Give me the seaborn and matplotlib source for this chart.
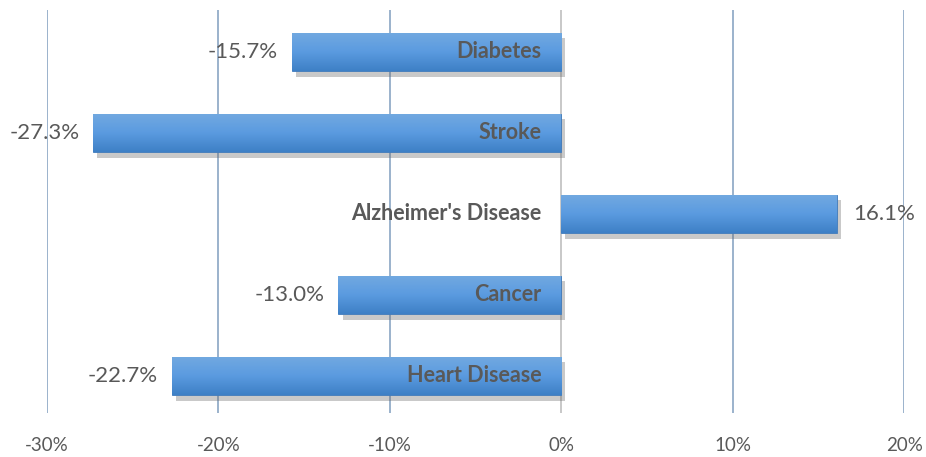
import matplotlib.pyplot as plt
import matplotlib.patheffects as pe
import matplotlib.transforms as mtransforms
import seaborn as sns
import numpy as np
import pandas as pd

# data
categories = ["Diabetes", "Stroke", "Alzheimer's Disease", "Cancer", "Heart Disease"]
changes = [-15.7, -27.3, 16.1, -13.0, -22.7]
xticks = [-30, -20, -10, 0, 10, 20]

df = pd.DataFrame({"cause": categories, "change": changes})

sns.set_style("white")
plt.rcParams["font.family"] = ["Lato", "DejaVu Sans"]
fig = plt.figure(figsize=(9.26, 4.57), dpi=100)
ax = fig.add_axes([0.0508, 0.0963, 0.9255, 0.882])

sns.barplot(data=df, x="change", y="cause", orient="h", color="#4a8bd0",
            width=0.47, ax=ax, zorder=3)

ax.set_xlim(-30, 20)
ax.set_xticks(xticks)
ax.set_xticklabels([f"{t}%" for t in xticks], color="#595959", fontsize=13.5)
ax.tick_params(axis="x", length=0, pad=17)
ax.set_yticks([])
ax.set_xlabel("")
ax.set_ylabel("")
for s in ax.spines.values():
    s.set_visible(False)

# vertical gridlines
for t in xticks:
    c = "#bfbfbf" if t == 0 else "#8aa6c4"
    ax.axvline(t, color=c, lw=1.2, zorder=1)

# gradient fill + shadow (light on top, darker at the bottom)
grad = np.linspace(0, 1, 64).reshape(-1, 1)
cmap = sns.blend_palette(["#72a9e0", "#5b9be0", "#3e80c6"], as_cmap=True)
for p in ax.patches:
    p.set_edgecolor("#3f7bbd")
    p.set_linewidth(0.6)
    p.set_path_effects([pe.SimplePatchShadow(offset=(3, -4), shadow_rgbFace="#666666", alpha=0.35),
                        pe.Normal()])
    x0, y0 = p.get_x(), p.get_y()
    w, h = p.get_width(), p.get_height()
    im = ax.imshow(grad, cmap=cmap, aspect="auto", zorder=4,
                   extent=[min(x0, x0 + w), max(x0, x0 + w), y0 + h, y0])
    im.set_clip_path(p)

ax.set_ylim(4.457, -0.519)

# labels
off_l = mtransforms.offset_copy(ax.transData, fig=fig, x=-20, y=0, units="dots")
for i, (cat, v) in enumerate(zip(categories, changes)):
    ax.text(0, i, cat, transform=off_l, ha="right", va="center", fontsize=15.5,
            fontweight="bold", color="#595959", zorder=6)
    if v < 0:
        tr = mtransforms.offset_copy(ax.transData, fig=fig, x=-14, y=0, units="dots")
        ax.text(v, i, f"{v:.1f}%", transform=tr, ha="right", va="center",
                fontsize=16, color="#595959", zorder=6)
    else:
        tr = mtransforms.offset_copy(ax.transData, fig=fig, x=16, y=0, units="dots")
        ax.text(v, i, f"{v:.1f}%", transform=tr, ha="left", va="center",
                fontsize=16, color="#595959", zorder=6)

fig.savefig("out.png", dpi=100)
